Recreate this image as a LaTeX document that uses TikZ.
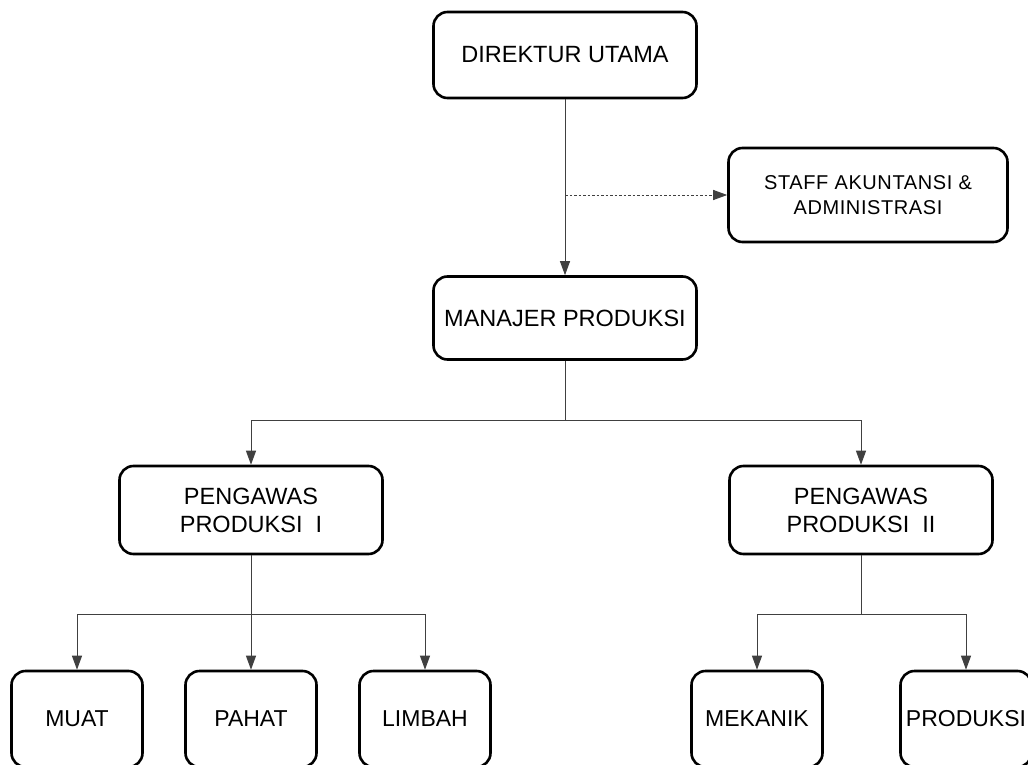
\documentclass[tikz,border=0pt]{standalone}
\usepackage{fontspec}
\setmainfont{Liberation Sans}
\usetikzlibrary{arrows.meta,positioning}

\begin{document}
\begin{tikzpicture}[x=1pt,y=-1pt,>={Triangle[length=14pt,width=10pt]},
 unit/.style={draw,line width=2.6pt,rounded corners=14pt,align=center,
  inner sep=0pt,minimum width=263pt,minimum height=86pt,
  font=\fontsize{23.5}{28}\selectfont},
 leaf/.style={unit,minimum width=131pt,minimum height=96pt,
  font=\fontsize{23}{28}\selectfont},
 link/.style={line width=1pt,draw=black!75}]
\path[use as bounding box] (0,0) rectangle (1028,765);
\clip (0,0) rectangle (1028,765);
\node[unit] (dir) at (565,55) {DIREKTUR UTAMA};
\node[unit,minimum width=279pt,minimum height=94pt,
 font=\fontsize{20}{25}\selectfont\addfontfeature{LetterSpace=3}] (staff) at (868,195)
 {STAFF AKUNTANSI \&\\ADMINISTRASI};
\node[unit,minimum height=83pt] (mp) at (565,318) {MANAJER PRODUKSI};
\node[unit,minimum height=88pt] (pi) at (251,510)
 {PENGAWAS\\PRODUKSI\ \ I};
\node[unit,minimum height=88pt] (pii) at (861,510)
 {PENGAWAS\\PRODUKSI\ \ II};
\node[leaf] (muat) at (77,719) {MUAT};
\node[leaf] (pahat) at (251,719) {PAHAT};
\node[leaf] (limbah) at (425,719) {LIMBAH};
\node[leaf] (mek) at (757,719) {MEKANIK};
\node[leaf] (prod) at (966,719) {PRODUKSI};
% direktur -> manajer, with dotted branch to staff
\coordinate (tap) at (565,195);
\draw[link,->] (dir) -- (mp);
\draw[link,dash pattern=on 2.5pt off 2pt,->] (tap) -- (staff);
% manajer -> pengawas
\coordinate (split1) at (565,420);
\draw[link] (mp) -- (split1);
\draw[link,->] (split1) -| (pi);
\draw[link,->] (split1) -| (pii);
% pengawas I -> muat, pahat, limbah
\coordinate (split2) at (251,614);
\draw[link,->] (pi) -- (pahat);
\draw[link,->] (split2) -| (muat);
\draw[link,->] (split2) -| (limbah);
% pengawas II -> mekanik, produksi
\coordinate (split3) at (861,614);
\draw[link] (pii) -- (split3);
\draw[link,->] (split3) -| (mek);
\draw[link,->] (split3) -| (prod);
\end{tikzpicture}
\end{document}
